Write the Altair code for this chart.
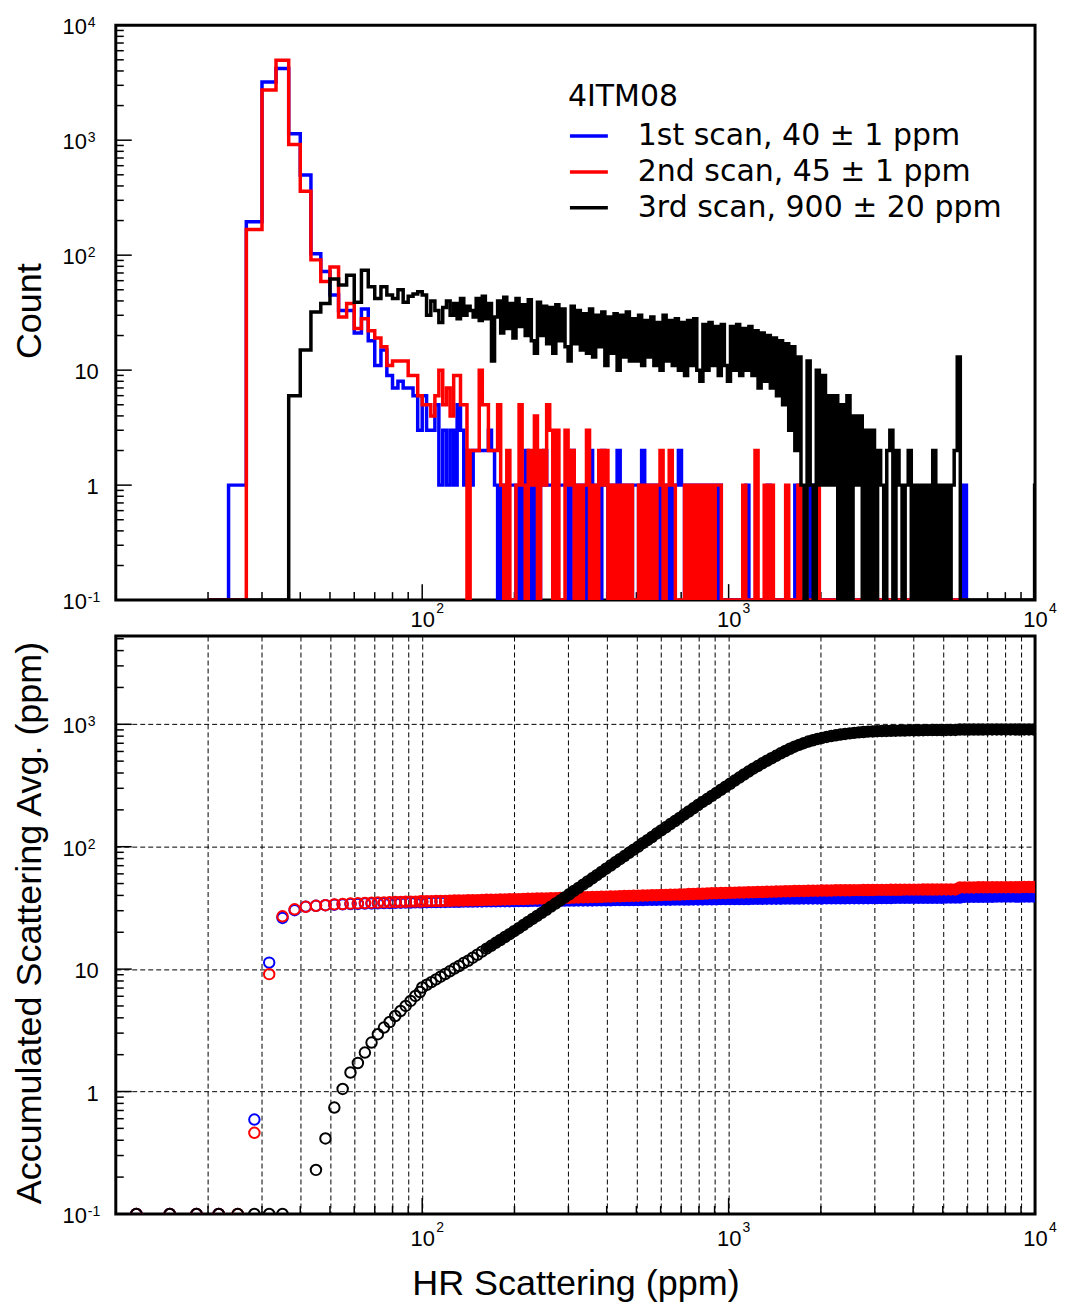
import altair as alt
import pandas as pd

# ---------------- shared definitions ----------------
SERIES = ["1st scan, 40 \u00b1 1 ppm", "2nd scan, 45 \u00b1 1 ppm", "3rd scan, 900 \u00b1 20 ppm"]
COLORS = ["#0000ff", "#ff0000", "#000000"]
LEGEND_TITLE = "4ITM08"
TICK_FONT = "'Liberation Sans', Arial, sans-serif"
TITLE_FONT = "'Liberation Sans', Arial, sans-serif"
LEGEND_FONT = "'DejaVu Sans', sans-serif"

# ---------------- top panel: histogram counts ----------------
BIN_WIDTH = 10.0 / 3.0      # ppm, linear bins of the histogram
LIN_FIRST_BIN = 6           # index of first listed linear bin (20 ppm)
FINE_START = 150.0          # ppm, start of the finely resolved (log-spaced) part
FINE_STEP = 0.01            # decades per fine bin

# linear bins k = 6 .. 44  (20 ppm .. 150 ppm)
blue_lin = [0, 1, 195, 3200, 4200, 1140, 497, 103, 72, 45, 33, 33, 21, 34, 18, 11, 15, 9, 7,
            8, 7, 7, 6, 3, 6, 3, 3, 5, 1, 3, 1, 3, 1, 5, 3, 1, 2, 1, 2]
red_lin = [0, 0, 167, 2735, 4960, 916, 360, 91, 59, 79, 29, 38, 23, 28, 22, 19, 16, 11, 12,
           12, 12, 9, 9, 6, 5, 5, 4, 6, 10, 5, 7, 4, 9, 9, 5, 5, 0, 2, 2]
black_lin = [0, 0, 0, 0, 0, 6, 15, 32, 38, 62, 55, 67, 39, 74, 53, 42, 53, 45, 42,
             50, 39, 44, 46, 48, 45, 30, 40, 33, 26, 35, 40, 30, 38, 28, 42, 30, 36, 33, 29]

# fine bins j = 0 .. 159 (150 ppm .. ~5970 ppm)
blue_fine = [2, 2, 2, 2, 3, 2,
             1, 0, 1, 0, 1, 1, 1, 0, 1, 0,
             2, 1, 0, 1, 0, 1, 2, 1, 1, 0,
             1, 1, 1, 1, 0, 2, 1, 0, 1, 0,
             1, 2, 0, 1, 0, 2, 1, 0, 1, 0,
             2, 1, 0, 1, 0, 1, 1, 0, 2, 0,
             1, 0, 1, 0, 1, 0, 1, 0, 1, 1,
             2, 1, 0, 1, 0, 1, 0, 1, 0, 1,
             0, 1, 0, 1, 0,
             0, 0, 0, 0, 0, 0, 0, 1, 0, 0,
             0, 0, 0, 0, 1, 0, 0, 0, 0, 0,
             0, 0, 0, 1, 0, 0, 0, 0, 1, 0,
             0, 0, 0, 0, 0, 0, 0, 0, 0, 0,
             0, 0, 0, 0, 0, 0, 0, 0, 0, 0,
             0, 0, 0, 0, 0, 0, 0, 0, 0, 0,
             0, 0, 0, 0, 0, 0, 0, 0, 0, 0,
             0, 0, 0, 0, 0, 0, 0, 0, 1]
red_fine = [2, 10, 5, 5, 2, 2,
            2, 5, 1, 0, 2, 0, 0, 1, 5, 1, 0, 2, 1, 4, 0, 2, 1,
            5, 3, 0, 3, 0, 0, 3, 1, 2, 0, 1, 0, 1,
            3, 0, 1, 0, 2, 1, 2, 0, 1, 0, 1, 0, 1, 0, 1,
            0, 0, 1, 0, 1, 0, 1, 0, 1, 2, 0, 1, 2, 1, 0, 0, 0, 1, 0, 1,
            0, 1, 0, 1, 0, 1, 0, 1, 1, 0,
            0, 0, 0, 0, 0, 0, 1, 0, 0, 0,
            2, 0, 0, 1, 0, 1, 0, 0, 0, 0,
            1, 0, 0, 0, 1, 0, 0, 0, 0, 0,
            1, 0, 0, 0, 0, 0, 0, 0, 0, 0,
            0, 0, 0, 0, 0, 0, 0, 0, 0, 0,
            0, 0, 0, 0, 0, 0, 0, 0, 0, 0,
            0, 0, 0, 0, 0, 0, 0, 0, 0, 0,
            0, 0, 0, 0, 0, 0, 0, 0, 0]
black_fine = [42, 27, 44, 28, 38, 12, 29,
              40, 21, 43, 23, 38, 19, 42, 24, 37, 20, 41, 18, 14, 39,
              20, 36, 17, 35, 14, 37, 18, 34, 16, 12, 36, 17,
              33, 15, 31, 14, 34, 13, 30, 16, 32, 11, 29, 14, 31, 10, 30, 13, 32, 12,
              28, 12, 30, 11, 27, 13, 29, 11, 26, 10, 30, 12, 27, 11, 28, 10, 26, 9, 27, 11, 28, 10,
              8, 25, 10, 26, 11, 24, 9, 25, 11, 8, 24, 10, 25, 9, 23, 10, 24, 9, 22, 7,
              21, 8, 20, 7, 19, 6, 18, 5, 17,
              3, 16, 2,
              13, 1, 0, 12, 1, 0,
              10, 1, 9,
              1, 6, 1, 6,
              0, 5, 0, 6,
              0, 4, 1, 4, 0,
              3, 0, 3,
              0, 2, 1, 0, 2, 3, 0, 2, 1, 0,
              1, 2, 0, 1, 0, 1, 0, 1, 0, 2, 0, 1, 0, 1, 0, 1, 2,
              13, 0, 0]
black_tail_x = [9966.67]
black_tail_c = [1]

# ---------------- bottom panel: accumulated scattering average ----------------
BOT_FIRST_BIN = 3           # first listed bin centre index (11.7 ppm)
BOT_FINE_START = 100.0      # ppm
BOT_FINE_STEP = 0.015       # decades
FILL_FROM = [120, 120, 160]  # ppm, where the overlapping circles merge into a solid band
# bin centres k = 3 .. 29 ; 0 -> drawn on the lower axis, None -> not drawn
blue_acc_lin = [0, 0, 0, 0, None, 0.59, 11.3, 26.2, 30.3, 32.4, 32.9, 33.3, 33.6, 33.8, 34.0, 34.1,
                34.3, 34.4, 34.5, 34.6, 34.7, 34.8, 34.9, 35.0, 35.0, 35.1, 35.1]
red_acc_lin = [0, 0, 0, 0, 0, 0.46, 9.1, 27.0, 30.8, 32.3, 32.9, 33.3, 33.8, 34.0, 34.3, 34.5,
               34.7, 34.9, 35.0, 35.1, 35.2, 35.3, 35.4, 35.5, 35.6, 35.6, 35.7]
black_acc_lin = [0, 0, 0, 0, 0, 0, 0, 0, None, None, 0.229, 0.414, 0.74, 1.05, 1.43, 1.71,
                 2.08, 2.51, 2.94, 3.33, 3.7, 4.14, 4.55, 5.0, 5.5, 6.04, 6.5]
blue_acc_fine = [35.2, 35.2, 35.3, 35.3, 35.4, 35.4, 35.5, 35.5, 35.5, 35.6,
                 35.6, 35.6, 35.7, 35.7, 35.8, 35.8, 35.8, 35.9, 35.9, 35.9,
                 35.9, 36.0, 36.0, 36.0, 36.1, 36.1, 36.1, 36.2, 36.2, 36.2,
                 36.2, 36.3, 36.3, 36.3, 36.4, 36.4, 36.4, 36.4, 36.5, 36.5,
                 36.5, 36.5, 36.6, 36.6, 36.6, 36.7, 36.7, 36.7, 36.7, 36.8,
                 36.8, 36.8, 36.9, 36.9, 36.9, 37.0, 37.0, 37.0, 37.0, 37.1,
                 37.1, 37.1, 37.2, 37.2, 37.2, 37.3, 37.3, 37.3, 37.3, 37.4,
                 37.4, 37.4, 37.5, 37.5, 37.5, 37.6, 37.6, 37.6, 37.6, 37.7,
                 37.7, 37.7, 37.7, 37.8, 37.8, 37.8, 37.8, 37.8, 37.9, 37.9,
                 37.9, 37.9, 37.9, 38.0, 38.0, 38.0, 38.0, 38.0, 38.1, 38.1,
                 38.1, 38.1, 38.1, 38.2, 38.2, 38.2, 38.2, 38.2, 38.3, 38.3,
                 38.3, 38.3, 38.3, 38.3, 38.4, 38.4, 38.4, 38.4, 39.0, 39.0,
                 39.0, 39.0, 39.0, 39.0, 39.0, 39.1, 39.1, 39.1, 39.1, 39.1,
                 39.1, 39.1, 39.1, 39.1]
red_acc_fine = [35.8, 35.9, 35.9, 36.0, 36.0, 36.1, 36.2, 36.3, 36.3, 36.4,
                36.5, 36.5, 36.6, 36.7, 36.8, 36.8, 36.9, 37.0, 37.1, 37.2,
                37.3, 37.3, 37.4, 37.5, 37.6, 37.7, 37.8, 37.8, 37.9, 38.0,
                38.1, 38.2, 38.3, 38.4, 38.5, 38.6, 38.7, 38.8, 38.9, 39.0,
                39.1, 39.2, 39.3, 39.4, 39.5, 39.6, 39.7, 39.8, 39.9, 40.0,
                40.1, 40.2, 40.3, 40.4, 40.5, 40.6, 40.7, 40.8, 41.0, 41.1,
                41.2, 41.3, 41.5, 41.6, 41.7, 41.8, 41.9, 42.0, 42.1, 42.2,
                42.3, 42.4, 42.5, 42.6, 42.7, 42.8, 42.9, 43.0, 43.1, 43.2,
                43.3, 43.4, 43.5, 43.5, 43.6, 43.7, 43.7, 43.8, 43.9, 43.9,
                44.0, 44.0, 44.1, 44.1, 44.2, 44.2, 44.3, 44.3, 44.3, 44.4,
                44.4, 44.4, 44.5, 44.5, 44.5, 44.6, 44.6, 44.6, 44.6, 44.7,
                44.7, 44.7, 44.7, 44.8, 44.8, 44.8, 44.8, 46.5, 46.5, 46.5,
                46.5, 46.6, 46.6, 46.6, 46.6, 46.6, 46.7, 46.7, 46.7, 46.7,
                46.7, 46.8, 46.8, 46.8]
black_acc_fine = [7.08, 7.45, 7.83, 8.24, 8.67, 9.12, 9.59, 10.1, 10.6, 11.2, 11.7,
                  12.4, 13.1, 13.9, 14.7, 15.5, 16.4, 17.3, 18.3, 19.3, 20.4,
                  21.6, 22.9, 24.3, 25.7, 27.2, 28.8, 30.5, 32.4, 34.3, 36.3,
                  38.5, 40.9, 43.5, 46.1, 49.0, 52.0, 55.2, 58.6, 62.2, 66.1,
                  70.1, 74.5, 79.1, 83.9, 89.1, 94.6, 100, 107, 113, 120,
                  128, 136, 144, 153, 162, 172, 183, 194, 206, 219,
                  232, 245, 260, 275, 292, 309, 327, 347, 367, 389,
                  411, 434, 456, 480, 504, 528, 553, 579, 605, 631,
                  656, 679, 701, 723, 741, 759, 774, 789, 802, 813,
                  824, 834, 843, 851, 859, 865, 871, 875, 879, 881,
                  883, 885, 887, 889, 890, 892, 893, 894, 895, 896,
                  897, 898, 898, 899, 900, 900, 907, 907, 907, 907,
                  907, 907, 908, 908, 908, 908, 908, 908, 908, 908, 908, 908, 908]

# ---------------- axis tick values & tick-label texts ----------------
TICK_MULTS = [2, 3, 4, 5, 6, 7, 8, 9]
X_MAJOR = [10, 100, 1000, 10000]
X_LABELLED = [100, 1000, 10000]
X_EXPONENTS = ["2", "3", "4"]
TOP_Y_MAJOR = [0.1, 1, 10, 100, 1000, 10000]
TOP_Y_EXP_VALUES = [10000, 1000, 100, 0.1]
TOP_Y_EXPONENTS = ["4", "3", "2", "-1"]
BOT_Y_MAJOR = [0.1, 1, 10, 100, 1000]
BOT_Y_EXP_VALUES = [1000, 100, 0.1]
BOT_Y_EXPONENTS = ["3", "2", "-1"]
Y_PLAIN_VALUES = [10, 1]
Y_PLAIN_TEXTS = ["10", "1"]
EXP_BASE = "10"
X_DOMAIN = [10, 10000]
TOP_Y_DOMAIN = [0.1, 10000]
BOT_Y_DOMAIN = [0.1, 5260]

x_minor = [m * d for d in [10, 100, 1000] for m in TICK_MULTS]
top_y_minor = [m * d for d in TOP_Y_MAJOR[:-1] for m in TICK_MULTS]
bot_y_minor = [m * d for d in BOT_Y_MAJOR for m in TICK_MULTS if m * d < BOT_Y_DOMAIN[1]]

W = 921
H_TOP = 576
H_BOT = 579

# ---------------- build tables ----------------
hist_rows = []
for name, lin, fine, tx, tc in [(SERIES[0], blue_lin, blue_fine, [], []),
                                 (SERIES[1], red_lin, red_fine, [], []),
                                 (SERIES[2], black_lin, black_fine, black_tail_x, black_tail_c)]:
    for i, c in enumerate(lin):
        hist_rows.append({"series": name, "x": (LIN_FIRST_BIN + i) * BIN_WIDTH, "c": c})
    for j, c in enumerate(fine):
        hist_rows.append({"series": name, "x": FINE_START * 10 ** (FINE_STEP * j), "c": c})
    for x, c in zip(tx, tc):
        hist_rows.append({"series": name, "x": x, "c": c})
    end_x = X_DOMAIN[1] if tx else FINE_START * 10 ** (FINE_STEP * len(fine))
    hist_rows.append({"series": name, "x": end_x, "c": 0})
hist_df = pd.DataFrame(hist_rows)

acc_rows = []
for name, lin, fine in [(SERIES[0], blue_acc_lin, blue_acc_fine),
                        (SERIES[1], red_acc_lin, red_acc_fine),
                        (SERIES[2], black_acc_lin, black_acc_fine)]:
    for i, v in enumerate(lin):
        if v is not None:
            acc_rows.append({"series": name, "x": (BOT_FIRST_BIN + i + 0.5) * BIN_WIDTH, "v": v})
    for i, v in enumerate(fine):
        acc_rows.append({"series": name, "x": BOT_FINE_START * 10 ** (BOT_FINE_STEP * i), "v": v})
acc_df = pd.DataFrame(acc_rows)

# ---------------- scales & axes ----------------
xs = alt.Scale(type="log", domain=X_DOMAIN, nice=False)
ys_top = alt.Scale(type="log", domain=TOP_Y_DOMAIN, nice=False)
ys_bot = alt.Scale(type="log", domain=BOT_Y_DOMAIN, nice=False)
color_scale = alt.Scale(domain=SERIES, range=COLORS)

MAJOR_TEST = "abs(log(datum.value)/LN10 - round(log(datum.value)/LN10)) < 0.000001"

x_axis_top = alt.Axis(values=X_LABELLED, labelExpr="'10'", labelFontSize=22, labelFont=TICK_FONT,
                      labelPadding=9, labelOverlap=False, labelFlush=False, title=None, grid=False,
                      ticks=False, tickSize=0, domain=False)
y_axis_top = alt.Axis(values=TOP_Y_MAJOR, labels=False,
                      title="Count", titleFontSize=36, titleFont=TITLE_FONT, titleFontWeight="normal",
                      titleX=-75, titleY=286, titleAngle=270, titleBaseline="alphabetic",
                      titleAlign="center", grid=False, ticks=False, tickSize=0, domain=False)
x_axis_bot = alt.Axis(values=x_minor + X_LABELLED, labelExpr=MAJOR_TEST + " ? '10' : ''",
                      labelFontSize=22, labelFont=TICK_FONT, labelPadding=15, labelOverlap=False,
                      labelFlush=False,
                      title="HR Scattering (ppm)", titleFontSize=36, titleFont=TITLE_FONT,
                      titleFontWeight="normal", titleX=W / 2, titleY=81, titleBaseline="alphabetic",
                      titleAlign="center", grid=True, gridDash=[5, 3], gridColor="#000000",
                      gridWidth=1, gridOpacity=1, ticks=False, tickSize=0, domain=False)
y_axis_bot = alt.Axis(values=BOT_Y_MAJOR, labels=False,
                      title="Accumulated Scattering Avg. (ppm)", titleFontSize=36, titleFont=TITLE_FONT,
                      titleFontWeight="normal", titleX=-75, titleY=287, titleAngle=270,
                      titleBaseline="alphabetic", titleAlign="center", grid=True, gridDash=[5, 3],
                      gridColor="#000000", gridWidth=1, gridOpacity=1, ticks=False, tickSize=0,
                      domain=False)


def y_ticks(vals, length, ys, ya):
    return alt.Chart(pd.DataFrame({"v": vals})).mark_rule(color="black", strokeWidth=1.5).encode(
        y=alt.Y("v:Q", scale=ys, axis=ya), x=alt.value(0), x2=alt.value(length))


def x_ticks(vals, length, h, xa):
    return alt.Chart(pd.DataFrame({"v": vals})).mark_rule(color="black", strokeWidth=1.5).encode(
        x=alt.X("v:Q", scale=xs, axis=xa), y=alt.value(h), y2=alt.value(h - length))


def y_labels(exp_vals, exp_texts, ys, ya):
    exp_df = pd.DataFrame({"v": exp_vals, "e": exp_texts, "b": [EXP_BASE] * len(exp_vals)})
    plain_df = pd.DataFrame({"v": Y_PLAIN_VALUES, "b": Y_PLAIN_TEXTS})
    base = alt.Chart(exp_df).mark_text(align="right", baseline="middle", fontSize=22,
                                       font=TICK_FONT, color="black", dy=2).encode(
        y=alt.Y("v:Q", scale=ys, axis=ya), x=alt.value(-29), text="b:N")
    expo = alt.Chart(exp_df).mark_text(align="left", baseline="alphabetic", fontSize=14,
                                       font=TICK_FONT, color="black", dy=2).encode(
        y=alt.Y("v:Q", scale=ys, axis=ya), x=alt.value(-28), text="e:N")
    plain = alt.Chart(plain_df).mark_text(align="right", baseline="middle", fontSize=22,
                                          font=TICK_FONT, color="black", dy=2).encode(
        y=alt.Y("v:Q", scale=ys, axis=ya), x=alt.value(-17), text="b:N")
    return [base, expo, plain]


def x_exponents(h, off, xa):
    return alt.Chart(pd.DataFrame({"v": X_LABELLED, "e": X_EXPONENTS})).mark_text(
        align="left", baseline="alphabetic", fontSize=14, font=TICK_FONT, color="black", dx=14).encode(
        x=alt.X("v:Q", scale=xs, axis=xa), y=alt.value(h + off), text="e:N")


legend = alt.Legend(orient="none", legendX=453, legendY=57, title=LEGEND_TITLE, titleFontSize=30,
                    titleFont=LEGEND_FONT, titleFontWeight="normal", titleColor="black", titlePadding=3,
                    labelFontSize=30, labelFont=LEGEND_FONT, labelColor="black", symbolType="stroke",
                    symbolSize=1444, symbolStrokeWidth=3.5, labelOffset=28, rowPadding=-5, padding=0,
                    labelLimit=700, direction="vertical")

hist_layers = []
for s in SERIES:
    hist_layers.append(
        alt.Chart(hist_df).transform_filter(alt.datum.series == s)
        .transform_calculate(cc="datum.c > 0 ? datum.c : 0.1")
        .mark_line(interpolate="step-after", strokeWidth=3.5, clip=True)
        .encode(x=alt.X("x:Q", scale=xs, axis=x_axis_top),
                y=alt.Y("cc:Q", scale=ys_top, axis=y_axis_top),
                color=alt.Color("series:N", scale=color_scale, legend=legend))
    )

top = alt.layer(
    y_ticks(TOP_Y_MAJOR, 16, ys_top, y_axis_top),
    y_ticks(top_y_minor, 8, ys_top, y_axis_top),
    x_ticks(X_MAJOR, 16, H_TOP, x_axis_top),
    x_ticks(x_minor, 8, H_TOP, x_axis_top),
    *hist_layers,
    *y_labels(TOP_Y_EXP_VALUES, TOP_Y_EXPONENTS, ys_top, y_axis_top),
    x_exponents(H_TOP, 13, x_axis_top),
).properties(width=W, height=H_TOP)

acc_layers = []
for s, col, start in zip(SERIES, COLORS, FILL_FROM):
    base = alt.Chart(acc_df).transform_filter(alt.datum.series == s).transform_calculate(
        vv="datum.v > 0 ? datum.v : 0.1")
    acc_layers.append(
        base.transform_filter(alt.datum.x >= start)
        .mark_line(strokeWidth=9, color=col, clip=True, strokeCap="round")
        .encode(x=alt.X("x:Q", scale=xs, axis=x_axis_bot),
                y=alt.Y("vv:Q", scale=ys_bot, axis=y_axis_bot))
    )
    acc_layers.append(
        base.mark_point(shape="circle", filled=False, size=110, strokeWidth=2, color=col, opacity=1,
                        clip=True)
        .encode(x=alt.X("x:Q", scale=xs, axis=x_axis_bot),
                y=alt.Y("vv:Q", scale=ys_bot, axis=y_axis_bot))
    )

bottom = alt.layer(
    y_ticks(BOT_Y_MAJOR, 16, ys_bot, y_axis_bot),
    y_ticks(bot_y_minor, 8, ys_bot, y_axis_bot),
    x_ticks(X_MAJOR, 16, H_BOT, x_axis_bot),
    x_ticks(x_minor, 8, H_BOT, x_axis_bot),
    *acc_layers,
    *y_labels(BOT_Y_EXP_VALUES, BOT_Y_EXPONENTS, ys_bot, y_axis_bot),
    x_exponents(H_BOT, 18, x_axis_bot),
).properties(width=W, height=H_BOT)

chart = alt.vconcat(top, bottom, spacing=36, bounds="flush").resolve_scale(
    color="independent").resolve_legend(color="independent").properties(
    padding={"left": 2, "top": 5, "right": 0, "bottom": 0}
).configure_view(stroke="black", strokeWidth=3).configure_axis(
    labelColor="black", titleColor="black")

chart.save("out.html", embed_options={"renderer": "svg", "actions": False})
